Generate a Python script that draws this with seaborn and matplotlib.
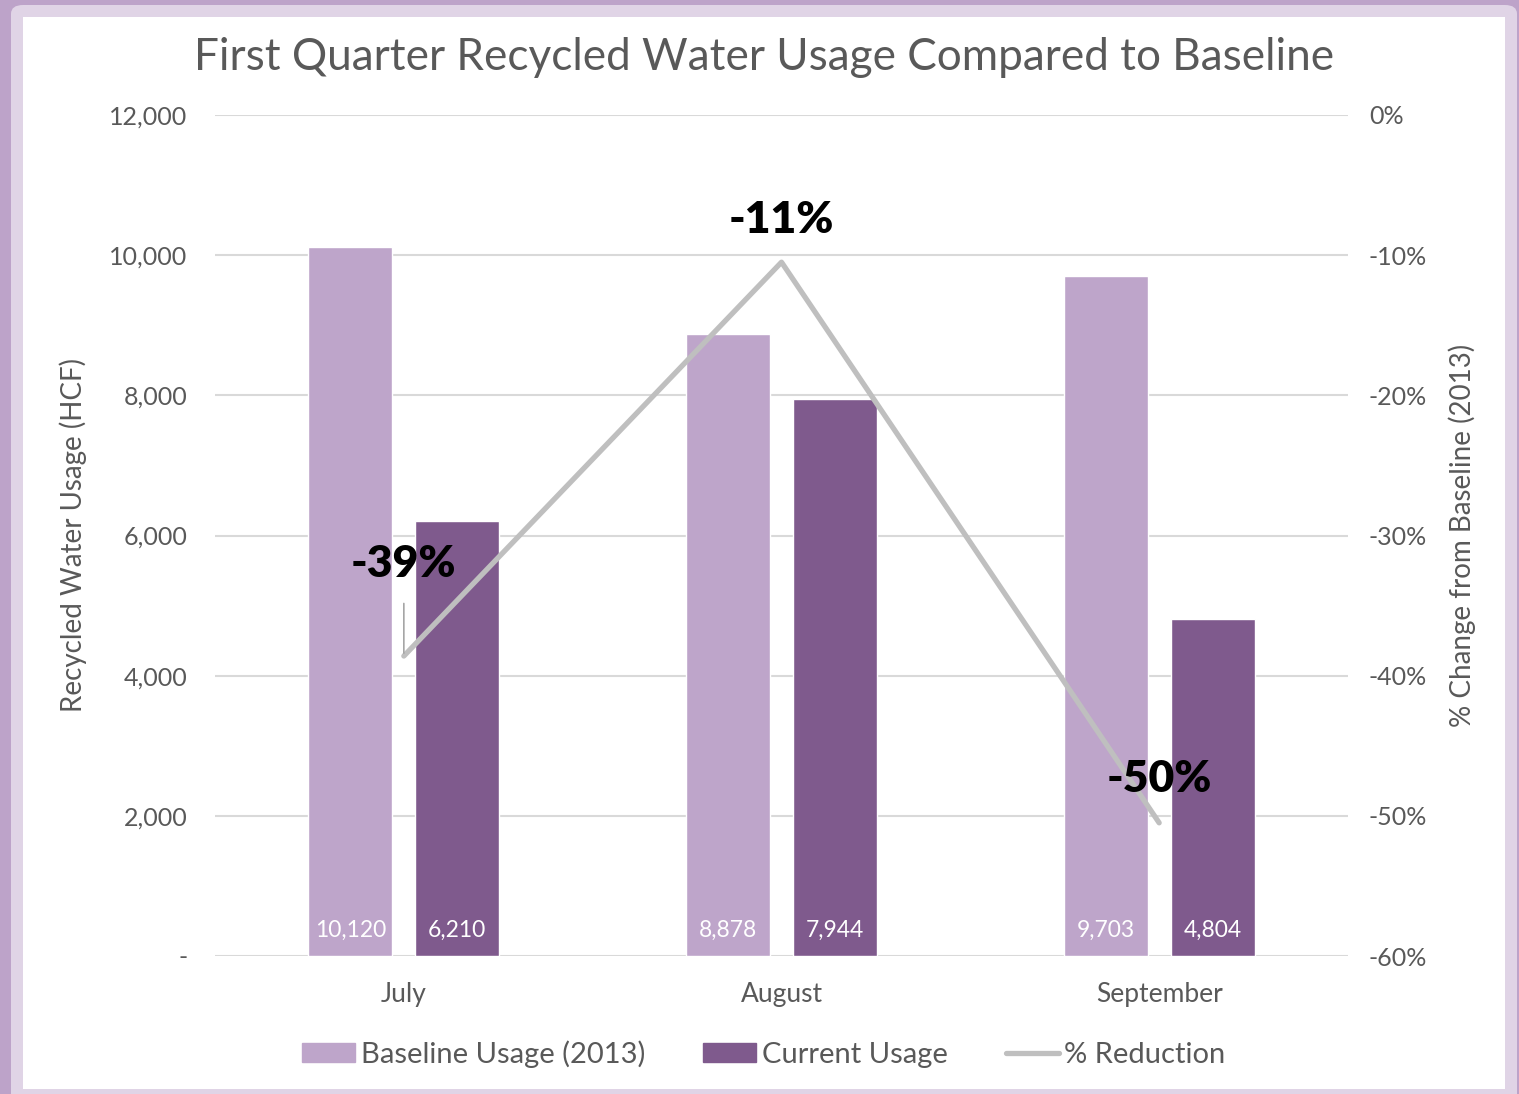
import pandas as pd
import matplotlib.pyplot as plt
import seaborn as sns
from matplotlib.patches import FancyBboxPatch, Rectangle
from matplotlib.lines import Line2D
from matplotlib.ticker import FuncFormatter

# data
months = ["July", "August", "September"]
baseline = [10120, 8878, 9703]
current = [6210, 7944, 4804]
pct_change = [-0.386, -0.105, -0.505]
pct_labels = ["-39%", "-11%", "-50%"]

light = "#BEA5CA"
dark = "#7F5A8D"
grey_txt = "#595959"
grid_c = "#D9D9D9"

sns.set_theme(style="white")
plt.rcParams['font.family'] = ['Lato', 'DejaVu Sans']

df = pd.DataFrame({
    "Month": months * 2,
    "Usage": baseline + current,
    "Series": ["Baseline Usage (2013)"] * 3 + ["Current Usage"] * 3,
})

fig = plt.figure(figsize=(15.19, 10.94), dpi=100)
fig.patch.set_facecolor("#BDA3C9")

# frame: light rounded band, then white card
fig.patches.append(FancyBboxPatch((11 / 1519, -0.02), 1506 / 1519, 1.02 - 5 / 1094,
                                  boxstyle="round,pad=0,rounding_size=0.008",
                                  transform=fig.transFigure, facecolor="#E0D4E6",
                                  edgecolor="none", zorder=-2))
fig.patches.append(Rectangle((23 / 1519, 5 / 1094), 1482 / 1519, 1072 / 1094,
                             transform=fig.transFigure, facecolor="white",
                             edgecolor="none", zorder=-1))

ax = fig.add_axes([215 / 1519, 138 / 1094, 1133 / 1519, 841 / 1094])
ax.set_facecolor("none")

sns.barplot(data=df, x="Month", y="Usage", hue="Series", ax=ax,
            palette=[light, dark], width=0.566, gap=0.215, saturation=1,
            legend=False, zorder=3)

ax.set_ylim(0, 12000)
ax.set_xlim(-0.5, 2.5)
ax.set_yticks(range(0, 12001, 2000))
ax.yaxis.set_major_formatter(FuncFormatter(lambda v, p: "-" if v == 0 else f"{v:,.0f}"))
ax.grid(axis="y", color=grid_c, linewidth=1.5, zorder=0)
ax.set_axisbelow(True)
for s in ax.spines.values():
    s.set_visible(False)
ax.tick_params(axis="y", length=0, pad=20, labelsize=18, labelcolor=grey_txt)
ax.tick_params(axis="x", length=0, pad=19, labelsize=19, labelcolor=grey_txt)
ax.set_xlabel("")
ax.set_ylabel("Recycled Water Usage (HCF)", fontsize=20, color=grey_txt, labelpad=16)

# value labels inside the bars
for cont in ax.containers:
    for bar in cont:
        h = bar.get_height()
        ax.text(bar.get_x() + bar.get_width() / 2, 360, f"{h:,.0f}",
                ha="center", va="center", color="white", fontsize=16.5, zorder=5)

# % change line on the right axis
ax2 = ax.twinx()
sns.lineplot(x=list(range(len(months))), y=pct_change, ax=ax2, color="#BFBFBF",
             linewidth=3.8, zorder=4)
ax2.set_ylim(-0.6, 0)
ax2.set_yticks([-0.6, -0.5, -0.4, -0.3, -0.2, -0.1, 0])
ax2.yaxis.set_major_formatter(FuncFormatter(lambda v, p: f"{v * 100:.0f}%"))
ax2.tick_params(axis="y", length=0, pad=15, labelsize=18, labelcolor=grey_txt)
for s in ax2.spines.values():
    s.set_visible(False)
ax2.grid(False)
ax2.set_ylabel("% Change from Baseline (2013)", fontsize=20, color=grey_txt, labelpad=15)

# percentage callouts
ax2.annotate(pct_labels[0], xy=(0, pct_change[0]), xytext=(0, -0.32),
             ha="center", va="center", fontsize=32, fontweight="heavy", color="black",
             zorder=6,
             arrowprops=dict(arrowstyle="-", color="#A6A6A6", lw=1.2, shrinkA=12, shrinkB=2))
ax2.text(1, -0.075, pct_labels[1], ha="center", va="center", fontsize=32,
         fontweight="heavy", color="black", zorder=6)
ax2.text(2, -0.474, pct_labels[2], ha="center", va="center", fontsize=32,
         fontweight="heavy", color="black", zorder=6)

fig.text(764 / 1519, 1 - 58 / 1094, "First Quarter Recycled Water Usage Compared to Baseline",
         ha="center", va="center", fontsize=31.8, color=grey_txt)

handles = [Rectangle((0, 0), 1, 1, color=light), Rectangle((0, 0), 1, 1, color=dark),
           Line2D([0], [0], color="#BFBFBF", linewidth=3.8)]
fig.legend(handles, ["Baseline Usage (2013)", "Current Usage", "% Reduction"],
           loc="center", bbox_to_anchor=(764 / 1519, 1 - 1054 / 1094), ncol=3,
           frameon=False, fontsize=21, labelcolor=grey_txt, handlelength=1.8,
           handleheight=0.6, handletextpad=0.2, columnspacing=2.0)

fig.savefig("out.png", dpi=100)
